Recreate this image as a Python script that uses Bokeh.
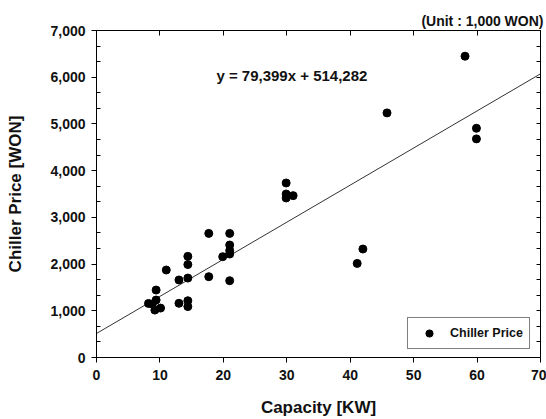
from bokeh.plotting import figure
from bokeh.models import (ColumnDataSource, Range1d, FixedTicker, NumeralTickFormatter,
                          LinearAxis, Label, Legend, LegendItem)
from bokeh.embed import file_html
from bokeh.resources import INLINE

# data (capacity in kW, price in 1,000 WON)
capacity = [8.2, 8.8, 9.4, 9.4, 9.2, 10.1, 11.0, 13.0, 13.0, 14.4, 14.4, 14.4, 14.4, 14.4,
            17.7, 17.7, 19.9, 21.0, 21.0, 21.0, 21.0, 21.0, 29.9, 29.9, 29.9, 31.0,
            41.1, 42.0, 45.8, 58.1, 59.9, 59.9]
price = [1157, 1144, 1230, 1444, 1015, 1058, 1873, 1660, 1160, 2165, 1990, 1700, 1215, 1090,
         2657, 1730, 2158, 2657, 2408, 2290, 2215, 1644, 3736, 3500, 3415, 3465,
         2014, 2322, 5236, 6450, 4907, 4680]
slope = 79.399
intercept = 514.282
fit_x = [0, 70]
x_ticks = [0, 10, 20, 30, 40, 50, 60, 70]
y_ticks = [0, 1000, 2000, 3000, 4000, 5000, 6000, 7000]
equation = "y = 79,399x + 514,282"
unit_text = "(Unit : 1,000 WON)"

FONT = "Liberation Sans"
TXT = "#111111"

p = figure(width=546, height=419, output_backend="svg", toolbar_location=None,
           x_range=Range1d(0, 70), y_range=Range1d(0, 7000),
           min_border_left=96, min_border_right=6, min_border_top=30, min_border_bottom=62)
p.grid.visible = False
p.outline_line_color = "black"
p.outline_line_width = 1
p.background_fill_color = "white"
p.border_fill_color = "white"

# title
p.title.text = unit_text
p.title.align = "right"
p.title.text_font = FONT
p.title.text_font_size = "14px"
p.title.text_font_style = "bold"
p.title.text_color = TXT
p.title.offset = -3
p.title.standoff = 3

minor_y = [t + k * 1000 / 3 for t in y_ticks[:-1] for k in (1, 2)]

# bottom axis
xa = p.xaxis[0]
xa.ticker = FixedTicker(ticks=x_ticks, minor_ticks=[])
xa.axis_label = "Capacity [KW]"
# left axis
ya = p.yaxis[0]
ya.ticker = FixedTicker(ticks=y_ticks, minor_ticks=minor_y)
ya.formatter = NumeralTickFormatter(format="0,0")
ya.axis_label = "Chiller Price [WON]"

for ax in (xa, ya):
    ax.axis_line_color = "black"
    ax.major_tick_line_color = "black"
    ax.major_tick_out = 5
    ax.major_tick_in = 0
    ax.minor_tick_in = 4
    ax.minor_tick_out = 0
    ax.minor_tick_line_color = "black"
    ax.major_label_text_font = FONT
    ax.major_label_text_font_style = "bold"
    ax.major_label_text_font_size = "14px"
    ax.major_label_text_color = TXT
    ax.axis_label_text_font = FONT
    ax.axis_label_text_font_style = "bold"
    ax.axis_label_text_font_size = "17px"
    ax.axis_label_text_color = TXT
xa.major_label_standoff = 7
xa.axis_label_standoff = 15
ya.major_label_standoff = 6
ya.axis_label_standoff = 22

# mirrored axes (ticks only, no labels drawn)
ra = LinearAxis(ticker=FixedTicker(ticks=y_ticks, minor_ticks=minor_y),
                major_label_text_color=None, major_label_text_font_size="1px",
                major_tick_in=4, major_tick_out=0,
                minor_tick_in=4, minor_tick_out=0, major_label_standoff=0)
ta = LinearAxis(ticker=FixedTicker(ticks=x_ticks, minor_ticks=[]),
                major_label_text_color=None, major_label_text_font_size="1px",
                major_tick_in=5, major_tick_out=0,
                minor_tick_in=0, minor_tick_out=0, major_label_standoff=0)
p.add_layout(ra, "right")
p.add_layout(ta, "above")

# regression line
fit_y = [slope * x + intercept for x in fit_x]
p.line(fit_x, fit_y, line_color="#333333", line_width=1)

src = ColumnDataSource(dict(x=capacity, y=price))
pts = p.scatter("x", "y", source=src, size=8, fill_color="black", line_color="black")

p.add_layout(Label(x=18.9, y=6036, text=equation, text_font=FONT, text_font_style="bold",
                   text_font_size="15px", text_baseline="middle", text_color=TXT))

legend = Legend(items=[LegendItem(label="Chiller Price", renderers=[pts])],
                location=(311, 8), label_text_font=FONT, label_text_font_style="bold",
                label_text_font_size="12.5px", label_text_color=TXT,
                border_line_color="black",
                border_line_width=1, padding=6, label_height=18, glyph_height=18,
                glyph_width=30, label_standoff=6, margin=0)
p.add_layout(legend, "center")

open("out.html", "w").write(file_html(p, INLINE))
